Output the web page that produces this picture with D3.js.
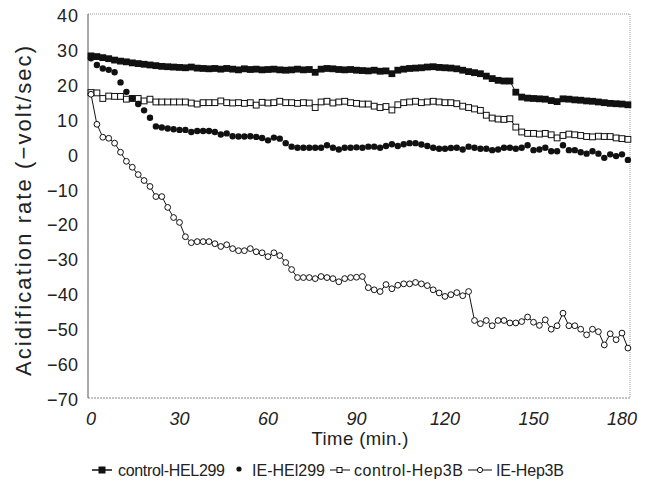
<!DOCTYPE html>
<html>
<head>
<meta charset="utf-8">
<script src="https://cdn.jsdelivr.net/npm/d3@7"></script>
<style>
  html, body { margin: 0; padding: 0; background: #fff; }
  svg { display: block; }
  text { font-family: "Liberation Sans", Arial, Helvetica, sans-serif; fill: #222; }
</style>
</head>
<body>
<svg id="chart" width="662" height="497"></svg>
<script>
// ---- data ----
const times = [0,2,4,6,8,10,12,14,16,18,20,22,24,26,28,30,32,34,36,38,40,42,44,46,48,50,52,54,56,58,60,62,64,66,68,70,72,74,76,78,80,82,84,86,88,90,92,94,96,98,100,102,104,106,108,110,112,114,116,118,120,122,124,126,128,130,132,134,136,138,140,142,144,146,148,150,152,154,156,158,160,162,164,166,168,170,172,174,176,178,180,182];

const controlHEL299 = [28.0,27.8,27.5,27.2,26.8,26.5,26.3,26.0,25.8,25.6,25.4,25.2,25.0,24.9,24.8,24.7,24.6,24.8,24.5,24.4,24.3,24.4,24.2,24.4,24.2,24.0,24.3,24.1,24.2,24.0,24.1,24.2,24.0,23.9,24.0,24.2,24.0,24.1,23.3,24.2,24.4,24.3,24.1,24.0,24.1,23.9,23.8,23.7,23.9,23.6,23.7,22.9,23.9,24.2,24.4,24.5,24.6,24.8,24.9,24.7,24.6,24.5,24.3,23.9,23.5,23.2,22.9,22.2,21.5,21.0,20.8,20.8,17.6,16.2,15.9,15.8,15.7,15.6,15.2,14.9,15.7,15.6,15.4,15.3,15.1,15.0,14.8,14.6,14.4,14.3,14.2,14.0];

const ieHEL299 = [27.3,25.4,24.4,24.0,23.3,20.4,17.7,15.9,14.2,12.4,10.3,7.8,7.5,7.2,7.0,6.8,6.8,6.2,6.5,6.5,6.5,6.2,5.5,5.8,5.0,4.9,4.9,5.0,4.8,4.5,3.8,4.6,4.3,3.0,2.0,1.7,1.7,1.7,1.7,1.7,2.4,1.7,1.2,1.7,1.7,1.8,1.7,2.0,2.0,1.7,2.2,2.7,2.2,2.7,3.0,3.0,2.6,2.2,1.7,1.4,1.4,1.6,1.7,1.2,2.0,1.7,1.4,1.4,1.0,1.2,1.7,1.7,1.4,1.7,2.4,1.0,1.2,1.7,0.7,0.7,2.4,1.0,1.0,0.4,0.0,0.7,0.0,-1.2,-0.2,-0.7,-0.2,-1.8];

const controlHep3B = [17.5,17.4,15.8,16.5,16.4,16.4,15.6,15.8,15.8,15.1,15.6,14.8,14.8,14.8,14.8,14.8,14.8,14.5,14.2,14.6,14.6,14.6,15.1,14.6,14.5,14.6,14.4,14.6,13.9,14.7,14.5,14.6,15.0,14.6,14.6,14.4,14.6,14.5,13.2,14.8,15.0,14.5,14.8,15.0,14.6,14.4,14.2,14.2,13.6,13.2,13.5,12.5,14.0,14.6,14.8,15.0,14.6,14.8,15.0,14.8,14.6,14.6,14.3,13.6,13.2,12.8,12.4,11.0,10.2,9.9,9.8,10.0,7.6,6.2,5.8,5.8,5.6,5.8,5.4,4.5,5.2,5.6,5.4,5.2,4.9,4.8,5.0,4.9,4.9,4.5,4.3,4.1];

const ieHep3B = [17.0,8.4,4.7,4.4,3.0,0.4,-2.2,-3.9,-6.0,-7.7,-9.4,-12.3,-12.3,-15.4,-18.3,-19.7,-23.8,-25.5,-25.2,-25.2,-25.2,-25.8,-26.6,-26.1,-27.2,-27.8,-27.8,-27.2,-28.1,-28.4,-29.5,-28.4,-29.2,-31.2,-33.2,-35.5,-35.5,-35.5,-35.8,-35.2,-35.5,-35.8,-36.7,-35.8,-35.5,-35.4,-35.2,-38.4,-39.0,-39.5,-37.5,-38.7,-37.7,-37.3,-37.3,-36.9,-37.3,-37.8,-39.0,-39.9,-40.9,-40.4,-39.8,-40.7,-39.5,-47.8,-48.7,-47.8,-49.3,-47.8,-47.8,-48.5,-48.5,-48.1,-46.8,-48.3,-49.2,-47.6,-50.3,-49.3,-45.7,-49.3,-49.3,-50.3,-51.9,-50.3,-51.0,-54.8,-51.6,-53.3,-51.4,-55.7];

const xTicks = [0, 30, 60, 90, 120, 150, 180];
const yTicks = [40, 30, 20, 10, 0, -10, -20, -30, -40, -50, -60, -70];
const seriesNames = ["control-HEL299", "IE-HEl299", "control-Hep3B", "IE-Hep3B"];

// ---- layout ----
const svg = d3.select("#chart");
const x = d3.scaleLinear().domain([0, 180]).range([91, 622]);
const y = d3.scaleLinear().domain([-70, 40]).range([398, 14]);
const frame = { left: 88, right: 630, top: 14, bottom: 398 };

// frame
svg.append("line").attr("x1", frame.left).attr("x2", frame.right).attr("y1", frame.top).attr("y2", frame.top)
  .attr("stroke", "#999").attr("stroke-width", 1).attr("stroke-dasharray", "1,1");
svg.append("line").attr("x1", frame.right).attr("x2", frame.right).attr("y1", frame.top).attr("y2", frame.bottom)
  .attr("stroke", "#999").attr("stroke-width", 1).attr("stroke-dasharray", "1,1");
svg.append("line").attr("x1", frame.left).attr("x2", frame.right).attr("y1", frame.bottom).attr("y2", frame.bottom)
  .attr("stroke", "#888").attr("stroke-width", 1).attr("stroke-dasharray", "2,1");
svg.append("line").attr("x1", frame.left).attr("x2", frame.left).attr("y1", frame.top).attr("y2", frame.bottom)
  .attr("stroke", "#555").attr("stroke-width", 1);

// y tick labels
const fmt = v => v < 0 ? "\u2212" + Math.abs(v) : String(v);
svg.append("g").selectAll("text").data(yTicks).join("text")
  .attr("x", 78).attr("y", d => y(d) + 2)
  .attr("text-anchor", "end").attr("dominant-baseline", "central")
  .attr("font-size", 18)
  .attr("textLength", d => d < 0 ? 31 : (d === 0 ? 10 : 21))
  .attr("lengthAdjust", "spacing")
  .text(fmt);

// x tick labels
svg.append("g").selectAll("text").data(xTicks).join("text")
  .attr("x", d => x(d)).attr("y", 419)
  .attr("text-anchor", "middle").attr("dominant-baseline", "central")
  .attr("font-size", 18).attr("font-style", "italic").text(d => d);

// axis titles
svg.append("text").attr("x", 360).attr("y", 438).attr("text-anchor", "middle")
  .attr("dominant-baseline", "central").attr("font-size", 18.5).attr("fill", "#333")
  .attr("textLength", 97).attr("lengthAdjust", "spacing").text("Time (min.)");
svg.append("text").attr("transform", "translate(23,211) rotate(-90)")
  .attr("text-anchor", "middle").attr("dominant-baseline", "central")
  .attr("font-size", 22).attr("fill", "#333").attr("textLength", 330).attr("lengthAdjust", "spacing")
  .text("Acidification rate (\u2212volt/sec)");

// series
const mk = arr => times.map((t, i) => ({ t, v: arr[i] }));
const line = d3.line().x(d => x(d.t)).y(d => y(d.v));

const s1 = mk(controlHEL299), s2 = mk(ieHEL299), s3 = mk(controlHep3B), s4 = mk(ieHep3B);

const g = svg.append("g");
// control-HEL299 : filled squares with line
g.append("path").datum(s1).attr("d", line).attr("fill", "none").attr("stroke", "#111").attr("stroke-width", 1);
g.append("g").selectAll("rect").data(s1).join("rect")
  .attr("x", d => x(d.t) - 3.4).attr("y", d => y(d.v) - 3.4).attr("width", 6.8).attr("height", 6.8).attr("fill", "#111");

// control-Hep3B : open squares with line
g.append("path").datum(s3).attr("d", line).attr("fill", "none").attr("stroke", "#111").attr("stroke-width", 1);
g.append("g").selectAll("rect").data(s3).join("rect")
  .attr("x", d => x(d.t) - 2.9).attr("y", d => y(d.v) - 2.9).attr("width", 5.8).attr("height", 5.8)
  .attr("fill", "#fff").attr("stroke", "#111").attr("stroke-width", 1);

// IE-HEl299 : filled dots only
g.append("g").selectAll("circle").data(s2).join("circle")
  .attr("cx", d => x(d.t)).attr("cy", d => y(d.v)).attr("r", 3.2).attr("fill", "#111");

// IE-Hep3B : open circles with line
g.append("path").datum(s4).attr("d", line).attr("fill", "none").attr("stroke", "#111").attr("stroke-width", 1);
g.append("g").selectAll("circle").data(s4).join("circle")
  .attr("cx", d => x(d.t)).attr("cy", d => y(d.v)).attr("r", 2.9)
  .attr("fill", "#fff").attr("stroke", "#111").attr("stroke-width", 1);

// legend
const ly = 470;
const leg = svg.append("g").attr("font-size", 16);
// item 1
leg.append("line").attr("x1", 92).attr("x2", 112).attr("y1", ly).attr("y2", ly).attr("stroke", "#111").attr("stroke-width", 1.5);
leg.append("rect").attr("x", 98.5).attr("y", ly - 3.5).attr("width", 7).attr("height", 7).attr("fill", "#111");
leg.append("text").attr("x", 118).attr("y", ly).attr("dominant-baseline", "central")
  .attr("textLength", 107).attr("lengthAdjust", "spacing").text(seriesNames[0]);
// item 2
leg.append("circle").attr("cx", 239).attr("cy", ly - 1).attr("r", 2.6).attr("fill", "#111");
leg.append("text").attr("x", 252).attr("y", ly).attr("dominant-baseline", "central")
  .attr("textLength", 73).attr("lengthAdjust", "spacing").text(seriesNames[1]);
// item 3
leg.append("line").attr("x1", 330).attr("x2", 350).attr("y1", ly).attr("y2", ly).attr("stroke", "#111");
leg.append("rect").attr("x", 337).attr("y", ly - 2.5).attr("width", 5).attr("height", 5).attr("fill", "#fff").attr("stroke", "#111");
leg.append("text").attr("x", 354).attr("y", ly).attr("dominant-baseline", "central")
  .attr("textLength", 109).attr("lengthAdjust", "spacing").text(seriesNames[2]);
// item 4
leg.append("line").attr("x1", 468).attr("x2", 492).attr("y1", ly).attr("y2", ly).attr("stroke", "#111");
leg.append("circle").attr("cx", 480).attr("cy", ly).attr("r", 2.6).attr("fill", "#fff").attr("stroke", "#111");
leg.append("text").attr("x", 496).attr("y", ly).attr("dominant-baseline", "central")
  .attr("textLength", 68).attr("lengthAdjust", "spacing").text(seriesNames[3]);
</script>
</body>
</html>
